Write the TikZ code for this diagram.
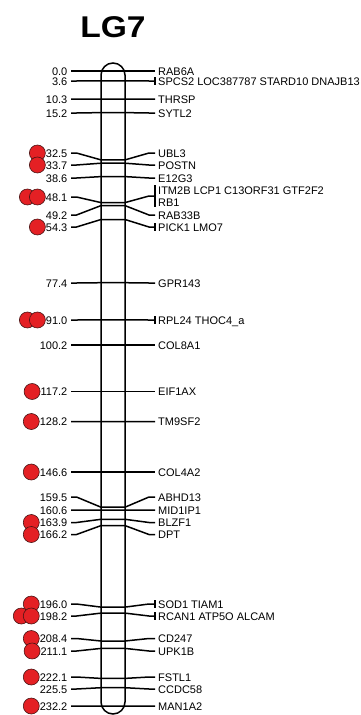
\documentclass[tikz,border=0pt]{standalone}
\usepackage{fontspec}
\setmainfont{Liberation Sans}
\usepackage{tikz}

\definecolor{qtlred}{RGB}{228,32,36}
\definecolor{qtlborder}{RGB}{70,20,20}

\tikzset{
  maptext/.style = {font=\fontsize{11}{12}\selectfont, inner sep=0pt,
                    text height=8pt, text depth=0pt},
  poslabel/.style = {maptext, anchor=east},
  genelabel/.style = {maptext, anchor=west},
  marker/.style = {line width=1.5pt, shorten <=3.5pt, shorten >=3pt},
  genebar/.style = {line width=1.5pt},
  qtl/.style = {circle, draw=qtlborder, fill=qtlred, line width=0.6pt,
                minimum size=16pt, inner sep=0pt, anchor=east}
}

\begin{document}
\begin{tikzpicture}[x=1pt, y=-1pt]
\useasboundingbox (0,0) rectangle (361,715);

% title
\node[font=\bfseries\fontsize{30}{30}\selectfont, transform shape, xscale=1.12] (title) at (113,27) {LG7};

% linkage group
\node[rectangle,
    draw = black,
    rounded corners = 12pt,
    line width = 1.5pt,
    minimum width = 24pt,
    minimum height = 651pt] (lg) at (113,388.5) {};

% 0.0
\node[poslabel] (p1) at (67.5,71) {0.0};
\node[genelabel] (g1) at (158,71) {RAB6A};
\draw[marker] (p1.east) -- ([xshift=9pt]p1.east) -- (101,71) -- (125,71) -- ([xshift=-9pt]g1.west) -- (g1.west);

% 3.6
\node[poslabel] (p2) at (67.5,81) {3.6};
\node[genelabel] (g2) at (158,81) {SPCS2 LOC387787 STARD10 DNAJB13};
\draw[marker] (p2.east) -- ([xshift=9pt]p2.east) -- (101,80.8) -- (125,80.8) -- ([xshift=-9pt]g2.west) -- (g2.west);
\draw[genebar] ([xshift=-3pt,yshift=4pt]g2.west) -- ([xshift=-3pt,yshift=-4pt]g2.west);

% 10.3
\node[poslabel] (p3) at (67.5,99) {10.3};
\node[genelabel] (g3) at (158,99) {THRSP};
\draw[marker] (p3.east) -- ([xshift=9pt]p3.east) -- (101,99.2) -- (125,99.2) -- ([xshift=-9pt]g3.west) -- (g3.west);

% 15.2
\node[poslabel] (p4) at (67.5,113) {15.2};
\node[genelabel] (g4) at (158,113) {SYTL2};
\draw[marker] (p4.east) -- ([xshift=9pt]p4.east) -- (101,112.6) -- (125,112.6) -- ([xshift=-9pt]g4.west) -- (g4.west);

% 32.5
\node[poslabel] (p5) at (67.5,153) {32.5};
\node[genelabel] (g5) at (158,153) {UBL3};
\draw[marker] (p5.east) -- ([xshift=9pt]p5.east) -- (101,159.9) -- (125,159.9) -- ([xshift=-9pt]g5.west) -- (g5.west);
\node[qtl] (q5) at (p5.west) {};

% 33.7
\node[poslabel] (p6) at (67.5,165) {33.7};
\node[genelabel] (g6) at (158,165) {POSTN};
\draw[marker] (p6.east) -- ([xshift=9pt]p6.east) -- (101,163.2) -- (125,163.2) -- ([xshift=-9pt]g6.west) -- (g6.west);
\node[qtl] (q6) at (p6.west) {};

% 38.6
\node[poslabel] (p7) at (67.5,178) {38.6};
\node[genelabel] (g7) at (158,178) {E12G3};
\draw[marker] (p7.east) -- ([xshift=9pt]p7.east) -- (101,176.6) -- (125,176.6) -- ([xshift=-9pt]g7.west) -- (g7.west);

% 48.1
\node[poslabel] (p8) at (67.5,197) {48.1};
\node[genelabel] (g8) at (158,190) {ITM2B LCP1 C13ORF31 GTF2F2};
\node[genelabel] (g8b) at (158,202) {RB1};
\coordinate (g8m) at (158,196);
\draw[marker] (p8.east) -- ([xshift=9pt]p8.east) -- (101,202.6) -- (125,202.6) -- ([xshift=-9pt]g8m) -- (g8m);
\draw[genebar] ([xshift=-3pt,yshift=5pt]g8.west) -- ([xshift=-3pt,yshift=-5pt]g8b.west);
\node[qtl] (q8b) at ([xshift=-10pt]p8.west) {};
\node[qtl] (q8) at (p8.west) {};

% 49.2
\node[poslabel] (p9) at (67.5,215) {49.2};
\node[genelabel] (g9) at (158,215) {RAB33B};
\draw[marker] (p9.east) -- ([xshift=9pt]p9.east) -- (101,205.6) -- (125,205.6) -- ([xshift=-9pt]g9.west) -- (g9.west);

% 54.3
\node[poslabel] (p10) at (67.5,227) {54.3};
\node[genelabel] (g10) at (158,227) {PICK1 LMO7};
\draw[marker] (p10.east) -- ([xshift=9pt]p10.east) -- (101,219.5) -- (125,219.5) -- ([xshift=-9pt]g10.west) -- (g10.west);
\draw[genebar] ([xshift=-3pt,yshift=4pt]g10.west) -- ([xshift=-3pt,yshift=-4pt]g10.west);
\node[qtl] (q10) at (p10.west) {};

% 77.4
\node[poslabel] (p11) at (67.5,283) {77.4};
\node[genelabel] (g11) at (158,283) {GPR143};
\draw[marker] (p11.east) -- ([xshift=9pt]p11.east) -- (101,282.7) -- (125,282.7) -- ([xshift=-9pt]g11.west) -- (g11.west);

% 91.0
\node[poslabel] (p12) at (67.5,320) {91.0};
\node[genelabel] (g12) at (158,320) {RPL24 THOC4\_a};
\draw[marker] (p12.east) -- ([xshift=9pt]p12.east) -- (101,319.9) -- (125,319.9) -- ([xshift=-9pt]g12.west) -- (g12.west);
\draw[genebar] ([xshift=-3pt,yshift=4pt]g12.west) -- ([xshift=-3pt,yshift=-4pt]g12.west);
\node[qtl] (q12b) at ([xshift=-10pt]p12.west) {};
\node[qtl] (q12) at (p12.west) {};

% 100.2
\node[poslabel] (p13) at (67.5,345) {100.2};
\node[genelabel] (g13) at (158,345) {COL8A1};
\draw[marker] (p13.east) -- ([xshift=9pt]p13.east) -- (101,345) -- (125,345) -- ([xshift=-9pt]g13.west) -- (g13.west);

% 117.2
\node[poslabel] (p14) at (67.5,391.5) {117.2};
\node[genelabel] (g14) at (158,391.5) {EIF1AX};
\draw[marker] (p14.east) -- ([xshift=9pt]p14.east) -- (101,391.5) -- (125,391.5) -- ([xshift=-9pt]g14.west) -- (g14.west);
\node[qtl] (q14) at (p14.west) {};

% 128.2
\node[poslabel] (p15) at (67.5,421.5) {128.2};
\node[genelabel] (g15) at (158,421.5) {TM9SF2};
\draw[marker] (p15.east) -- ([xshift=9pt]p15.east) -- (101,421.6) -- (125,421.6) -- ([xshift=-9pt]g15.west) -- (g15.west);
\node[qtl] (q15) at (p15.west) {};

% 146.6
\node[poslabel] (p16) at (67.5,472) {146.6};
\node[genelabel] (g16) at (158,472) {COL4A2};
\draw[marker] (p16.east) -- ([xshift=9pt]p16.east) -- (101,472) -- (125,472) -- ([xshift=-9pt]g16.west) -- (g16.west);
\node[qtl] (q16) at (p16.west) {};

% 159.5
\node[poslabel] (p17) at (67.5,497) {159.5};
\node[genelabel] (g17) at (158,497) {ABHD13};
\draw[marker] (p17.east) -- ([xshift=9pt]p17.east) -- (101,507.2) -- (125,507.2) -- ([xshift=-9pt]g17.west) -- (g17.west);

% 160.6
\node[poslabel] (p18) at (67.5,510) {160.6};
\node[genelabel] (g18) at (158,510) {MID1IP1};
\draw[marker] (p18.east) -- ([xshift=9pt]p18.east) -- (101,510.2) -- (125,510.2) -- ([xshift=-9pt]g18.west) -- (g18.west);

% 163.9
\node[poslabel] (p19) at (67.5,522.5) {163.9};
\node[genelabel] (g19) at (158,522.5) {BLZF1};
\draw[marker] (p19.east) -- ([xshift=9pt]p19.east) -- (101,519.3) -- (125,519.3) -- ([xshift=-9pt]g19.west) -- (g19.west);
\node[qtl] (q19) at (p19.west) {};

% 166.2
\node[poslabel] (p20) at (67.5,534.5) {166.2};
\node[genelabel] (g20) at (158,534.5) {DPT};
\draw[marker] (p20.east) -- ([xshift=9pt]p20.east) -- (101,525.6) -- (125,525.6) -- ([xshift=-9pt]g20.west) -- (g20.west);
\node[qtl] (q20) at (p20.west) {};

% 196.0
\node[poslabel] (p21) at (67.5,604) {196.0};
\node[genelabel] (g21) at (158,604) {SOD1 TIAM1};
\draw[marker] (p21.east) -- ([xshift=9pt]p21.east) -- (101,607.1) -- (125,607.1) -- ([xshift=-9pt]g21.west) -- (g21.west);
\draw[genebar] ([xshift=-3pt,yshift=4pt]g21.west) -- ([xshift=-3pt,yshift=-4pt]g21.west);
\node[qtl] (q21) at (p21.west) {};

% 198.2
\node[poslabel] (p22) at (67.5,616) {198.2};
\node[genelabel] (g22) at (158,616) {RCAN1 ATP5O ALCAM};
\draw[marker] (p22.east) -- ([xshift=9pt]p22.east) -- (101,613.1) -- (125,613.1) -- ([xshift=-9pt]g22.west) -- (g22.west);
\draw[genebar] ([xshift=-3pt,yshift=4pt]g22.west) -- ([xshift=-3pt,yshift=-4pt]g22.west);
\node[qtl] (q22b) at ([xshift=-10pt]p22.west) {};
\node[qtl] (q22) at (p22.west) {};

% 208.4
\node[poslabel] (p23) at (67.5,638.5) {208.4};
\node[genelabel] (g23) at (158,638.5) {CD247};
\draw[marker] (p23.east) -- ([xshift=9pt]p23.east) -- (101,641) -- (125,641) -- ([xshift=-9pt]g23.west) -- (g23.west);
\node[qtl] (q23) at (p23.west) {};

% 211.1
\node[poslabel] (p24) at (67.5,651) {211.1};
\node[genelabel] (g24) at (158,651) {UPK1B};
\draw[marker] (p24.east) -- ([xshift=9pt]p24.east) -- (101,648.4) -- (125,648.4) -- ([xshift=-9pt]g24.west) -- (g24.west);
\node[qtl] (q24) at (p24.west) {};

% 222.1
\node[poslabel] (p25) at (67.5,677) {222.1};
\node[genelabel] (g25) at (158,677) {FSTL1};
\draw[marker] (p25.east) -- ([xshift=9pt]p25.east) -- (101,678.4) -- (125,678.4) -- ([xshift=-9pt]g25.west) -- (g25.west);
\node[qtl] (q25) at (p25.west) {};

% 225.5
\node[poslabel] (p26) at (67.5,689) {225.5};
\node[genelabel] (g26) at (158,689) {CCDC58};
\draw[marker] (p26.east) -- ([xshift=9pt]p26.east) -- (101,687.7) -- (125,687.7) -- ([xshift=-9pt]g26.west) -- (g26.west);

% 232.2
\node[poslabel] (p27) at (67.5,706) {232.2};
\node[genelabel] (g27) at (158,706) {MAN1A2};
\draw[marker] (p27.east) -- ([xshift=9pt]p27.east) -- (101,706.1) -- (125,706.1) -- ([xshift=-9pt]g27.west) -- (g27.west);
\node[qtl] (q27) at (p27.west) {};

\end{tikzpicture}
\end{document}
